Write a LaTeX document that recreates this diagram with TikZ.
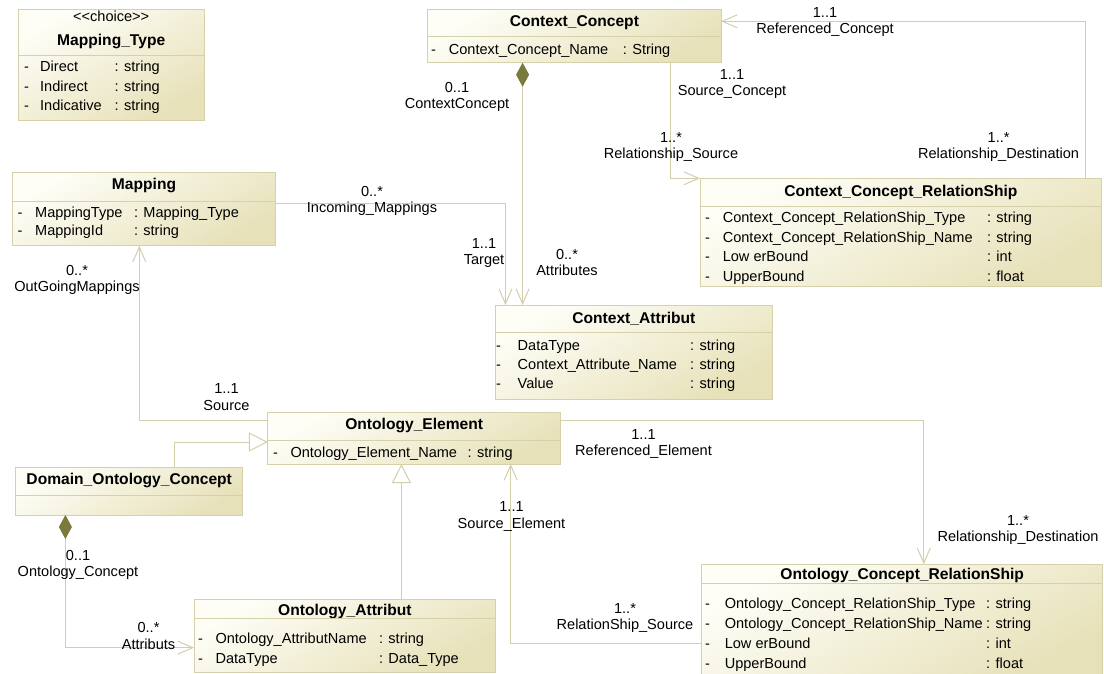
\documentclass[tikz,border=0pt]{standalone}
\usepackage{fontspec}
\setmainfont{Liberation Sans}
\usetikzlibrary{arrows.meta}

\definecolor{boxtop}{HTML}{FEFEF7}
\definecolor{boxbot}{HTML}{E7E1B9}
\definecolor{boxedge}{HTML}{D6D1AA}
\definecolor{wire}{HTML}{D3CFAC}
\definecolor{diam}{HTML}{7A7A3C}

\newcommand\umlattrfont{\fontsize{14.55}{16.5}\selectfont}
\newcommand\umltitlefont{\fontsize{15.6}{18}\selectfont\bfseries}
% two centred lines, baseline of the node = baseline of the first line
\newcommand\twolines[2]{\vtop{\baselineskip=16.5pt\halign{\hfil##\hfil\cr#1\cr#2\cr}}}
% one attribute row: name, y, dash x, name x, colon x, attribute, type
\newcommand\attrrow[7]{%
  \node[attr] (#1-d) at (#3,#2) {-};
  \node[attr] (#1-n) at (#4,#2) {#6};
  \node[attr] (#1-t) at (#5,#2) {: #7};
}

\tikzset{
  classbox/.style={rectangle, draw=boxedge, line width=1pt, outer sep=0pt,
    inner sep=0pt, anchor=north west, top color=boxtop, bottom color=boxbot,
    shading angle=30},
  sepline/.style={draw=boxedge, line width=1pt},
  attr/.style={anchor=west, inner sep=0pt, text height=10.4pt, text depth=0pt,
    font=\umlattrfont},
  classtitle/.style={anchor=center, inner sep=0pt, text height=11.2pt,
    text depth=0pt, font=\umltitlefont},
  stereo/.style={anchor=center, inner sep=0pt, text height=10.4pt,
    text depth=0pt, font=\umlattrfont},
  lbl/.style={anchor=base, inner sep=0pt, font=\umlattrfont},
  assoc/.style={draw=wire, line width=1pt,
    -{Straight Barb[length=15pt,width=13pt]}},
  comp/.style={draw=wire, line width=1pt,
    {Diamond[length=24pt,width=13pt,color=diam]}-{Straight Barb[length=15pt,width=13pt]}},
  gen/.style={draw=wire, line width=1pt,
    -{Triangle[open,length=19pt,width=19pt,fill=white]}},
}

\begin{document}
\begin{tikzpicture}[x=1pt,y=-1pt]
\useasboundingbox[fill=white] (0,0) rectangle (1104,673);

% ---- Mapping_Type
\node[classbox, minimum width=185.7pt, minimum height=111pt] (mt) at (18.3,9) {};
\node[stereo] (mt-s) at (111.2,16.7) {<{}<choice>{}>};
\node[classtitle] (mt-t) at (111.2,39.5) {Mapping\_Type};
\draw[sepline] (mt.west |- 0,55) -- (mt.east |- 0,55);
\attrrow{mt1}{66.7}{24}{40}{114.5}{Direct}{string}
\attrrow{mt2}{86}{24}{40}{114.5}{Indirect}{string}
\attrrow{mt3}{105.5}{24}{40}{114.5}{Indicative}{string}

% ---- Mapping
\node[classbox, minimum width=263.4pt, minimum height=73.4pt] (mp) at (12.3,172.3) {};
\node[classtitle] (mp-t) at (144,184) {Mapping};
\draw[sepline] (mp.west |- 0,201.7) -- (mp.east |- 0,201.7);
\attrrow{mp1}{212.3}{17.5}{35}{133.8}{MappingType}{Mapping\_Type}
\attrrow{mp2}{230.7}{17.5}{35}{133.8}{MappingId}{string}

% ---- Context_Concept
\node[classbox, minimum width=293.2pt, minimum height=53.7pt] (cc) at (427.8,9) {};
\node[classtitle] (cc-t) at (574.4,21) {Context\_Concept};
\draw[sepline] (cc.west |- 0,36.7) -- (cc.east |- 0,36.7);
\attrrow{cc1}{49}{431}{448.7}{622.7}{Context\_Concept\_Name}{String}

% ---- Context_Concept_RelationShip
\node[classbox, minimum width=401.8pt, minimum height=108.4pt] (ccr) at (700,178.3) {};
\node[classtitle] (ccr-t) at (900.9,190.5) {Context\_Concept\_RelationShip};
\draw[sepline] (ccr.west |- 0,206.7) -- (ccr.east |- 0,206.7);
\attrrow{ccr1}{217.3}{705}{722.6}{986.8}{Context\_Concept\_RelationShip\_Type}{string}
\attrrow{ccr2}{237.3}{705}{722.6}{986.8}{Context\_Concept\_RelationShip\_Name}{string}
\attrrow{ccr3}{256.7}{705}{722.6}{986.8}{Low erBound}{int}
\attrrow{ccr4}{276}{705}{722.6}{986.8}{UpperBound}{float}

% ---- Context_Attribut
\node[classbox, minimum width=277.7pt, minimum height=94pt] (ca) at (495,305) {};
\node[classtitle] (ca-t) at (633.9,317.7) {Context\_Attribut};
\draw[sepline] (ca.west |- 0,332.7) -- (ca.east |- 0,332.7);
\attrrow{ca1}{345}{496}{517.5}{690}{DataType}{string}
\attrrow{ca2}{364}{496}{517.5}{690}{Context\_Attribute\_Name}{string}
\attrrow{ca3}{383.3}{496}{517.5}{690}{Value}{string}

% ---- Ontology_Element
\node[classbox, minimum width=292.6pt, minimum height=51.3pt] (oe) at (267.9,412.7) {};
\node[classtitle] (oe-t) at (414.2,424.3) {Ontology\_Element};
\draw[sepline] (oe.west |- 0,440.7) -- (oe.east |- 0,440.7);
\attrrow{oe1}{452}{273}{290.3}{467.4}{Ontology\_Element\_Name}{string}

% ---- Domain_Ontology_Concept
\node[classbox, minimum width=227.5pt, minimum height=47.7pt] (doc) at (15.4,467.3) {};
\node[classtitle] (doc-t) at (129.2,479) {Domain\_Ontology\_Concept};
\draw[sepline] (doc.west |- 0,495) -- (doc.east |- 0,495);

% ---- Ontology_Attribut
\node[classbox, minimum width=301.7pt, minimum height=73.3pt] (oa) at (194,599) {};
\node[classtitle] (oa-t) at (344.9,610) {Ontology\_Attribut};
\draw[sepline] (oa.west |- 0,618.3) -- (oa.east |- 0,618.3);
\attrrow{oa1}{638.7}{198}{215.3}{378.8}{Ontology\_AttributName}{string}
\attrrow{oa2}{658.3}{198}{215.3}{378.8}{DataType}{Data\_Type}

% ---- Ontology_Concept_RelationShip
\node[classbox, minimum width=400.6pt, minimum height=115pt] (ocr) at (701.9,564.3) {};
\node[classtitle] (ocr-t) at (902.2,574.3) {Ontology\_Concept\_RelationShip};
\draw[sepline] (ocr.west |- 0,583.3) -- (ocr.east |- 0,583.3);
\attrrow{ocr1}{603.3}{705}{724.6}{986}{Ontology\_Concept\_RelationShip\_Type}{string}
\attrrow{ocr2}{623.3}{705}{724.6}{986}{Ontology\_Concept\_RelationShip\_Name}{string}
\attrrow{ocr3}{643.3}{705}{724.6}{986}{Low erBound}{int}
\attrrow{ocr4}{663.3}{705}{724.6}{986}{UpperBound}{float}

% ---- connectors
\draw[assoc] (mp.east |- 0,203.3) -| ([xshift=10.5pt]ca.north west);
\draw[comp] (cc.south -| 522.6,0) -- (ca.north -| 522.6,0);
\draw[assoc] (cc.south -| 670,0) |- (ccr.north west);
\draw[assoc] (ccr.north -| 1085.7,0) |- (cc.east |- 0,21.3);
\draw[assoc] (oe.west |- 0,420.3) -| (mp.south -| 139.3,0);
\draw[gen] (doc.north -| 174.3,0) |- (oe.west |- 0,442);
\draw[gen] (oa.north -| 401.4,0) -- (oe.south -| 401.4,0);
\draw[comp] (doc.south -| 65.4,0) |- (oa.west |- 0,647.7);
\draw[assoc] (ocr.west |- 0,643.3) -| (oe.south -| 510.7,0);
\draw[assoc] (oe.east |- 0,420) -| (ocr.north -| 923.8,0);

% ---- role names and multiplicities
\node[lbl] (l-im) at (372,196.3) {\twolines{0..*}{Incoming\_Mappings}};
\node[lbl] (l-tg) at (484,248.3) {\twolines{1..1}{Target}};
\node[lbl] (l-cc) at (457,92.3) {\twolines{0..1}{ContextConcept}};
\node[lbl] (l-at) at (567,259.3) {\twolines{0..*}{Attributes}};
\node[lbl] (l-sc) at (732,79.3) {\twolines{1..1}{Source\_Concept}};
\node[lbl] (l-rs) at (671,142) {\twolines{1..*}{Relationship\_Source}};
\node[lbl] (l-rc) at (825,17) {\twolines{1..1}{Referenced\_Concept}};
\node[lbl] (l-rd) at (998.6,142) {\twolines{1..*}{Relationship\_Destination}};
\node[lbl] (l-og) at (77,275.3) {\twolines{0..*}{OutGoingMappings}};
\node[lbl] (l-so) at (226.5,393.6) {\twolines{1..1}{Source}};
\node[lbl] (l-oc) at (78,560.3) {\twolines{0..1}{Ontology\_Concept}};
\node[lbl] (l-ab) at (148.5,632.6) {\twolines{0..*}{Attributs}};
\node[lbl] (l-se) at (511.5,511.8) {\twolines{1..1}{Source\_Element}};
\node[lbl] (l-rss) at (625,613.3) {\twolines{1..*}{RelationShip\_Source}};
\node[lbl] (l-re) at (643.5,439.3) {\twolines{1..1}{Referenced\_Element}};
\node[lbl] (l-rdd) at (1018,525.3) {\twolines{1..*}{Relationship\_Destination}};
\end{tikzpicture}
\end{document}
